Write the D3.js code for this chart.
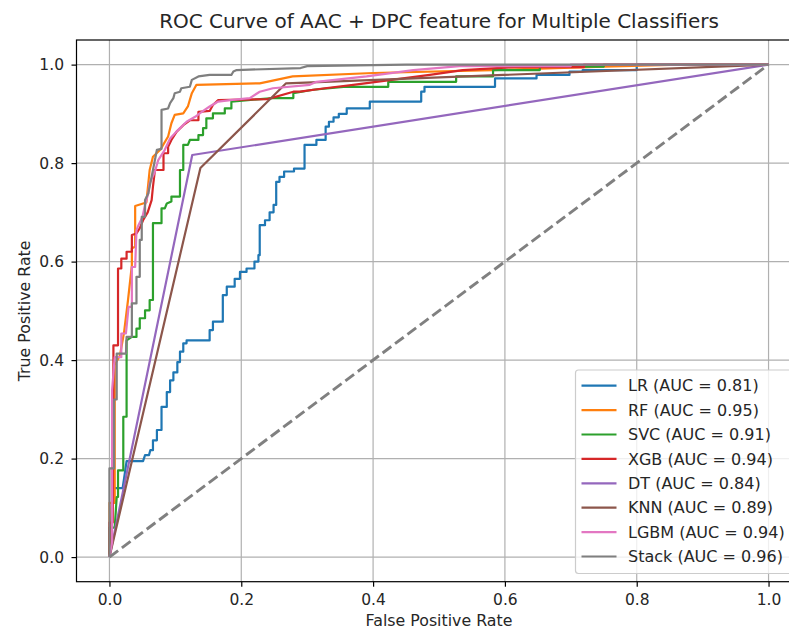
<!DOCTYPE html>
<html>
<head>
<meta charset="utf-8">
<script src="https://cdn.jsdelivr.net/npm/d3@7"></script>
<style>
  body { margin: 0; background: #fff; }
  svg { font-family: "DejaVu Sans", sans-serif; }
</style>
</head>
<body>
<div class="wrapper"></div>
<script>
// classifier names + AUC shown in legend
const names = ["LR", "RF", "SVC", "XGB", "DT", "KNN", "LGBM", "Stack"];
const aucs = [0.81, 0.95, 0.91, 0.94, 0.84, 0.89, 0.94, 0.96];
const colors = ["#1f77b4", "#ff7f0e", "#2ca02c", "#d62728", "#9467bd", "#8c564b", "#e377c2", "#7f7f7f"];
const ticks = [0, 0.2, 0.4, 0.6, 0.8, 1.0];

// [fpr, tpr] points
const lrPts = [[0,0],[0.005,0.14],[0.02,0.14],[0.026,0.195],[0.051,0.195],[0.054,0.207],[0.06,0.207],[0.062,0.217],[0.066,0.217],[0.066,0.237],[0.072,0.237],[0.072,0.258],[0.079,0.258],[0.079,0.305],[0.087,0.305],[0.087,0.335],[0.092,0.335],[0.092,0.359],[0.097,0.359],[0.097,0.375],[0.103,0.375],[0.103,0.396],[0.107,0.396],[0.107,0.417],[0.112,0.417],[0.112,0.434],[0.117,0.434],[0.117,0.44],[0.152,0.44],[0.152,0.461],[0.157,0.461],[0.157,0.478],[0.172,0.478],[0.172,0.532],[0.178,0.532],[0.178,0.549],[0.19,0.549],[0.19,0.565],[0.198,0.565],[0.198,0.579],[0.208,0.579],[0.208,0.586],[0.22,0.586],[0.22,0.6],[0.226,0.6],[0.226,0.613],[0.228,0.613],[0.228,0.674],[0.236,0.674],[0.236,0.684],[0.243,0.684],[0.243,0.7],[0.249,0.7],[0.249,0.715],[0.253,0.715],[0.253,0.762],[0.258,0.762],[0.258,0.772],[0.265,0.772],[0.265,0.783],[0.28,0.783],[0.28,0.789],[0.296,0.789],[0.296,0.837],[0.314,0.837],[0.314,0.847],[0.328,0.847],[0.328,0.874],[0.333,0.874],[0.333,0.884],[0.34,0.884],[0.34,0.893],[0.348,0.893],[0.348,0.9],[0.36,0.9],[0.36,0.911],[0.395,0.911],[0.395,0.925],[0.473,0.925],[0.473,0.945],[0.478,0.945],[0.478,0.955],[0.585,0.955],[0.585,0.972],[0.648,0.972],[0.648,0.979],[0.698,0.979],[0.698,0.986],[0.718,0.986],[0.718,0.989],[0.8,0.989],[0.8,1],[1,1]];
const rfPts = [[0,0],[0,0.11],[0.008,0.11],[0.008,0.39],[0.016,0.41],[0.022,0.455],[0.028,0.52],[0.034,0.593],[0.034,0.627],[0.039,0.63],[0.039,0.713],[0.051,0.718],[0.056,0.72],[0.061,0.786],[0.066,0.813],[0.077,0.827],[0.089,0.854],[0.094,0.881],[0.099,0.898],[0.112,0.901],[0.119,0.915],[0.125,0.942],[0.132,0.959],[0.228,0.962],[0.278,0.976],[0.4,0.983],[0.582,0.989],[0.75,0.996],[0.865,1],[1,1]];
const svcPts = [[0,0],[0,0.06],[0.008,0.06],[0.011,0.122],[0.013,0.122],[0.013,0.176],[0.021,0.176],[0.021,0.285],[0.026,0.285],[0.026,0.44],[0.034,0.447],[0.041,0.447],[0.041,0.464],[0.046,0.464],[0.046,0.485],[0.054,0.485],[0.054,0.501],[0.061,0.501],[0.061,0.522],[0.066,0.522],[0.066,0.678],[0.079,0.678],[0.079,0.708],[0.084,0.708],[0.087,0.718],[0.094,0.722],[0.094,0.732],[0.107,0.732],[0.107,0.786],[0.112,0.786],[0.112,0.837],[0.119,0.837],[0.122,0.847],[0.135,0.847],[0.135,0.857],[0.142,0.857],[0.142,0.871],[0.147,0.871],[0.147,0.891],[0.157,0.891],[0.157,0.901],[0.175,0.901],[0.175,0.911],[0.185,0.911],[0.185,0.925],[0.248,0.932],[0.279,0.932],[0.279,0.942],[0.309,0.949],[0.355,0.955],[0.423,0.955],[0.423,0.965],[0.526,0.965],[0.526,0.976],[0.582,0.976],[0.582,0.989],[0.653,0.989],[0.653,0.996],[0.75,0.996],[0.75,1],[1,1]];
const xgbPts = [[0,0],[0,0.07],[0.005,0.07],[0.006,0.4],[0.006,0.43],[0.013,0.43],[0.013,0.586],[0.018,0.586],[0.018,0.606],[0.026,0.606],[0.026,0.62],[0.034,0.62],[0.034,0.654],[0.041,0.657],[0.046,0.668],[0.051,0.684],[0.058,0.7],[0.064,0.725],[0.066,0.752],[0.069,0.786],[0.082,0.786],[0.082,0.82],[0.089,0.82],[0.089,0.833],[0.094,0.847],[0.102,0.864],[0.112,0.877],[0.122,0.887],[0.135,0.887],[0.135,0.904],[0.152,0.906],[0.157,0.918],[0.165,0.928],[0.24,0.93],[0.279,0.945],[0.289,0.945],[0.327,0.952],[0.37,0.959],[0.428,0.969],[0.486,0.979],[0.536,0.989],[0.615,0.995],[0.72,0.995],[0.72,1],[1,1]];
const dtPts = [[0,0],[0.1256,0.8165],[1,1]];
const knnPts = [[0,0],[0.138,0.79],[0.268,0.962],[1,1]];
const lgbmPts = [[0,0],[0.004,0.03],[0.004,0.339],[0.008,0.406],[0.018,0.406],[0.018,0.454],[0.025,0.454],[0.029,0.508],[0.034,0.508],[0.034,0.589],[0.039,0.589],[0.041,0.664],[0.044,0.674],[0.05,0.69],[0.054,0.715],[0.059,0.739],[0.061,0.759],[0.069,0.783],[0.074,0.806],[0.084,0.827],[0.092,0.85],[0.104,0.867],[0.117,0.884],[0.13,0.894],[0.14,0.904],[0.152,0.915],[0.165,0.925],[0.183,0.928],[0.213,0.932],[0.228,0.945],[0.248,0.952],[0.304,0.959],[0.314,0.965],[0.39,0.976],[0.461,0.989],[0.531,0.997],[0.7,0.997],[0.7,1],[1,1]];
const stackPts = [[0,0],[0,0.18],[0.007,0.18],[0.007,0.32],[0.011,0.32],[0.011,0.413],[0.025,0.413],[0.026,0.447],[0.034,0.447],[0.034,0.515],[0.041,0.515],[0.041,0.569],[0.046,0.569],[0.046,0.644],[0.049,0.644],[0.049,0.691],[0.054,0.691],[0.054,0.725],[0.059,0.739],[0.066,0.786],[0.072,0.827],[0.079,0.829],[0.079,0.908],[0.089,0.911],[0.092,0.922],[0.097,0.932],[0.099,0.942],[0.107,0.945],[0.109,0.952],[0.122,0.955],[0.125,0.969],[0.135,0.976],[0.152,0.979],[0.185,0.979],[0.188,0.986],[0.193,0.989],[0.29,0.993],[0.3,0.997],[0.45,1],[1,1]];

const curves = [lrPts, rfPts, svcPts, xgbPts, dtPts, knnPts, lgbmPts, stackPts];

var width = 789, height = 631;
var plotLeft = 76.5, plotRight = 801.5, plotTop = 40, plotBottom = 581.7;

var x = d3.scaleLinear().domain([-0.05, 1.05]).range([plotLeft, plotRight]);
var y = d3.scaleLinear().domain([-0.05, 1.05]).range([plotBottom, plotTop]);

var svg = d3.select(".wrapper").append("svg")
    .attr("width", width)
    .attr("height", height);

// grid
svg.append("g").selectAll("line")
    .data(ticks).enter().append("line")
    .attr("x1", d => x(d)).attr("x2", d => x(d))
    .attr("y1", plotTop).attr("y2", plotBottom)
    .attr("stroke", "#b0b0b0").attr("stroke-width", 1.2);
svg.append("g").selectAll("line")
    .data(ticks).enter().append("line")
    .attr("y1", d => y(d)).attr("y2", d => y(d))
    .attr("x1", plotLeft).attr("x2", plotRight)
    .attr("stroke", "#b0b0b0").attr("stroke-width", 1.2);

var line = d3.line().x(d => x(d[0])).y(d => y(d[1]));

svg.append("g").selectAll("path")
    .data(curves).enter().append("path")
    .attr("d", line)
    .attr("fill", "none")
    .attr("stroke", (d, i) => colors[i])
    .attr("stroke-width", 2.2)
    .attr("stroke-linejoin", "round");

// chance line
svg.append("path")
    .datum([[0, 0], [1, 1]])
    .attr("d", line)
    .attr("fill", "none")
    .attr("stroke", "#808080")
    .attr("stroke-width", 2.9)
    .attr("stroke-dasharray", "10.8,4.7");

// spines
svg.append("rect")
    .attr("x", plotLeft).attr("y", plotTop)
    .attr("width", plotRight - plotLeft).attr("height", plotBottom - plotTop)
    .attr("fill", "none").attr("stroke", "#000").attr("stroke-width", 1.2);

// axes
var xAxis = svg.append("g")
    .attr("transform", "translate(0," + plotBottom + ")")
    .call(d3.axisBottom(x).tickValues(ticks).tickFormat(d3.format(".1f")).tickSize(5).tickPadding(7.5));
var yAxis = svg.append("g")
    .attr("transform", "translate(" + plotLeft + ",0)")
    .call(d3.axisLeft(y).tickValues(ticks).tickFormat(d3.format(".1f")).tickSize(5).tickPadding(7.5));
[xAxis, yAxis].forEach(function(a) {
  a.select(".domain").remove();
  a.selectAll("line").attr("stroke", "#000").attr("stroke-width", 1.2);
  a.selectAll("text").attr("font-size", 15.5).attr("fill", "#262626")
    .attr("font-family", "DejaVu Sans");
});

// labels
svg.append("text")
    .attr("x", (plotLeft + plotRight) / 2).attr("y", 28)
    .attr("text-anchor", "middle")
    .attr("font-size", 20).attr("fill", "#262626")
    .text("ROC Curve of AAC + DPC feature for Multiple Classifiers");
svg.append("text")
    .attr("x", (plotLeft + plotRight) / 2).attr("y", 626)
    .attr("text-anchor", "middle")
    .attr("font-size", 15.8).attr("fill", "#262626")
    .text("False Positive Rate");
svg.append("text")
    .attr("transform", "translate(30," + ((plotTop + plotBottom) / 2) + ") rotate(-90)")
    .attr("text-anchor", "middle")
    .attr("font-size", 15.8).attr("fill", "#262626")
    .text("True Positive Rate");

// legend, lower right
var fs = 16;
var legW = 218, rowH = 24.4;
var legX = plotRight - 8 - legW, legY = 370;
var legend = svg.append("g");
legend.append("rect")
    .attr("x", legX).attr("y", legY)
    .attr("width", legW).attr("height", 203.5)
    .attr("rx", 3)
    .attr("fill", "#fff").attr("fill-opacity", 0.8)
    .attr("stroke", "#cccccc").attr("stroke-width", 1.2);
var rows = legend.selectAll("g.row")
    .data(names).enter().append("g")
    .attr("class", "row")
    .attr("transform", (d, i) => "translate(0," + (385.7 + i * rowH) + ")");
rows.append("line")
    .attr("x1", 581.5).attr("x2", 616.5)
    .attr("stroke", (d, i) => colors[i]).attr("stroke-width", 2.2);
rows.append("text")
    .attr("x", 628).attr("dy", "0.36em")
    .attr("font-size", fs).attr("fill", "#262626")
    .text((d, i) => d + " (AUC = " + aucs[i].toFixed(2) + ")");
</script>
</body>
</html>
